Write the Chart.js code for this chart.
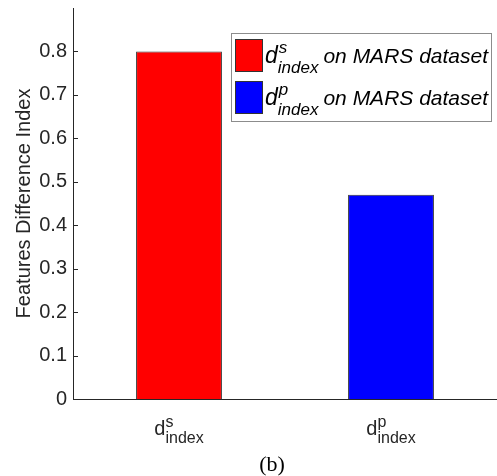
<!DOCTYPE html>
<html lang="en">
<head>
    <meta charset="UTF-8">
    <title>Features Difference Index</title>
    <style>
        * { margin: 0; padding: 0; box-sizing: border-box; }
        body { background: #fff; width: 497px; height: 476px; overflow: hidden; }
        #wrap { position: relative; width: 497px; height: 476px; }
    </style>
</head>
<body>
    <div id="wrap"><canvas id="chart" width="497" height="476"></canvas></div>

    <script src="https://cdn.jsdelivr.net/npm/chart.js@4.4.0/dist/chart.umd.min.js"></script>
    <script>
        // Data
        const categories = ['s', 'p'];            // superscripts of d_index
        const values = [0.8, 0.47];
        const barColors = ['#ff0000', '#0000ff'];
        const legendLabels = ['on MARS dataset', 'on MARS dataset'];
        const yTicks = [0, 0.1, 0.2, 0.3, 0.4, 0.5, 0.6, 0.7, 0.8];
        const caption = '(b)';

        const axisColor = '#262626';
        const sans = '"Liberation Sans", Arial, sans-serif';

        // draw d^sup_index at x (left), baseline y
        function drawIndexLabel(ctx, x, y, sup, italic, size, small) {
            const it = italic ? 'italic ' : '';
            ctx.textAlign = 'left';
            ctx.textBaseline = 'alphabetic';
            ctx.font = it + size + 'px ' + sans;
            ctx.fillText('d', x, y);
            const dw = ctx.measureText('d').width;
            ctx.font = it + small + 'px ' + sans;
            ctx.fillText(sup, x + dw + (italic ? 1 : 0), y - size * 0.42);
            ctx.fillText('index', x + dw, y + size * 0.42);
            const iw = ctx.measureText('index').width;
            return dw + iw;
        }

        const extras = {
            id: 'extras',
            afterDraw(chart) {
                const ctx = chart.ctx;
                const y = chart.scales.y;
                const x = chart.scales.x;
                const area = chart.chartArea;
                ctx.save();

                // inward y ticks
                ctx.strokeStyle = axisColor;
                ctx.lineWidth = 1;
                yTicks.forEach(v => {
                    const py = Math.round(y.getPixelForValue(v)) + 0.5;
                    ctx.beginPath();
                    ctx.moveTo(area.left, py);
                    ctx.lineTo(area.left + 5, py);
                    ctx.stroke();
                });

                // x tick labels with super/subscripts
                ctx.fillStyle = axisColor;
                categories.forEach((c, i) => {
                    const cx = x.getPixelForTick(i);
                    ctx.font = '20px ' + sans;
                    const dw = ctx.measureText('d').width;
                    ctx.font = '16px ' + sans;
                    const iw = ctx.measureText('index').width;
                    drawIndexLabel(ctx, cx - (dw + iw) / 2, area.bottom + 36, c, false, 20, 16);
                });

                // legend
                const lx = 231, ly = 33, lw = 260, lh = 88;
                ctx.fillStyle = '#fff';
                ctx.fillRect(lx, ly, lw, lh);
                ctx.strokeStyle = '#8c8c8c';
                ctx.strokeRect(lx + 0.5, ly + 0.5, lw, lh);
                categories.forEach((c, i) => {
                    const ry = ly + 6 + i * 42;
                    ctx.fillStyle = barColors[i];
                    ctx.fillRect(lx + 4, ry, 28, 33);
                    ctx.strokeStyle = '#333';
                    ctx.strokeRect(lx + 4.5, ry + 0.5, 27, 32);
                    ctx.fillStyle = '#000';
                    const w = drawIndexLabel(ctx, lx + 34, ry + 24, c, true, 23, 17);
                    ctx.font = 'italic 21px ' + sans;
                    ctx.fillText(legendLabels[i], lx + 38 + w + 1, ry + 24);
                });

                // caption
                ctx.fillStyle = '#000';
                ctx.font = '22px "Liberation Serif", "Times New Roman", serif';
                ctx.textAlign = 'center';
                ctx.textBaseline = 'alphabetic';
                ctx.fillText(caption, 272, 471);

                ctx.restore();
            }
        };

        new Chart(document.getElementById('chart'), {
            type: 'bar',
            data: {
                labels: categories,
                datasets: [{
                    data: values,
                    backgroundColor: barColors,
                    borderColor: '#333',
                    borderWidth: 1,
                    barPercentage: 0.405,
                    categoryPercentage: 1
                }]
            },
            options: {
                responsive: false,
                animation: false,
                layout: { padding: { top: 8, right: 0, left: 0, bottom: 0 } },
                plugins: {
                    legend: { display: false },
                    tooltip: { enabled: false }
                },
                scales: {
                    x: {
                        grid: { display: false, drawTicks: false },
                        border: { display: true, color: axisColor, width: 1 },
                        ticks: { display: true, callback: () => '' },
                        afterFit: s => { s.height = 77; s.paddingLeft = 0; s.paddingRight = 0; }
                    },
                    y: {
                        min: 0,
                        max: 0.9,
                        grid: { display: false, drawTicks: false },
                        border: { display: true, color: axisColor, width: 1 },
                        ticks: {
                            stepSize: 0.1,
                            padding: 6,
                            color: axisColor,
                            font: { family: sans, size: 20 },
                            callback: v => (yTicks.includes(Math.round(v * 10) / 10) ? String(Math.round(v * 10) / 10) : '')
                        },
                        title: {
                            display: true,
                            text: 'Features Difference Index',
                            color: axisColor,
                            font: { family: sans, size: 20 },
                            padding: { top: 12, bottom: 0 }
                        },
                        afterFit: s => { s.width = 73; s.paddingTop = 0; s.paddingBottom = 0; }
                    }
                }
            },
            plugins: [extras]
        });
    </script>
</body>
</html>
